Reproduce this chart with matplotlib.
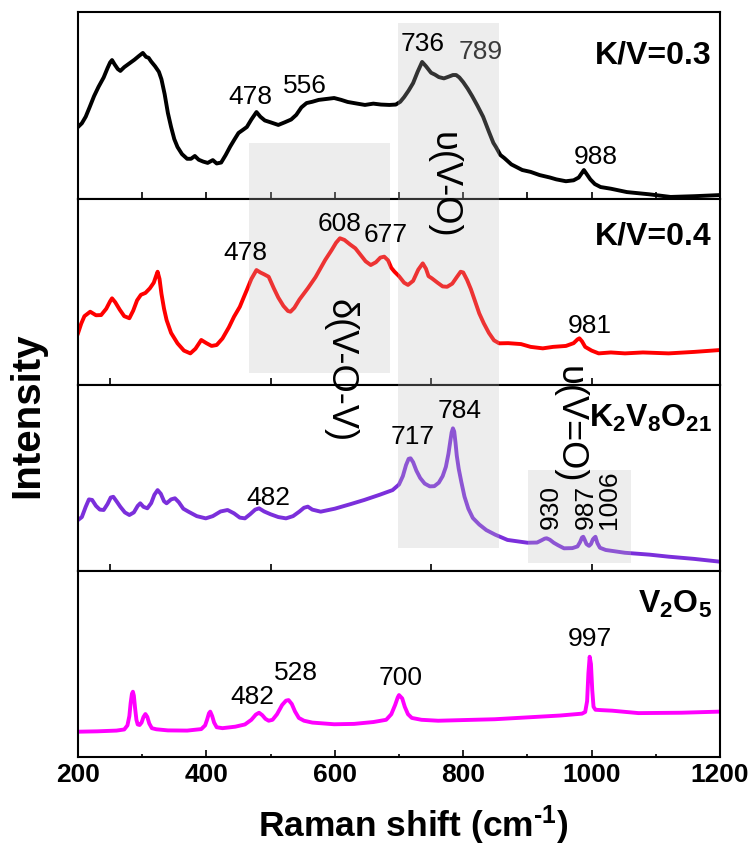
import numpy as np
import matplotlib
matplotlib.use('Agg')
import matplotlib.pyplot as plt
from matplotlib.patches import Rectangle
from matplotlib.transforms import blended_transform_factory
from matplotlib import font_manager

# 拉曼光谱 (拉曼位移 cm-1, 相对强度)
kv03_x = [200, 206, 212, 218, 225, 232, 240, 246, 250, 253, 257, 262, 266, 272, 280, 288, 295, 301,
          306, 310, 314, 320, 326, 330, 335, 340, 345, 350, 355, 362, 370, 376, 382, 388, 395, 402,
          410, 416, 423, 430, 437, 444, 450, 457, 463, 470, 478, 484, 491, 500, 512, 522, 532, 540,
          548, 556, 565, 575, 587, 599, 610, 620, 635, 647, 660, 672, 685, 695, 702, 708, 715, 722,
          729, 736, 742, 750, 756, 762, 770, 778, 784, 789, 794, 800, 807, 814, 822, 831, 840, 847,
          851, 858, 864, 875, 892, 905, 919, 935, 945, 960, 972, 980, 985, 988, 992, 998, 1005,
          1014, 1030, 1055, 1090, 1123, 1160, 1200]
kv03_y = [38.5, 40.5, 44, 49, 55, 60, 65, 70, 73, 74.3, 72, 69.5, 68.5, 70.5, 72.5, 74.5, 76.5, 78.1,
          76, 75.5, 73.5, 71, 68, 64, 56, 46, 38.5, 32, 27.8, 24, 21.5, 21.5, 23, 21, 20, 19.3,
          20.8, 19, 19.5, 23.5, 28, 32, 35.3, 37, 38.5, 42.5, 46.5, 44, 42, 41, 39.6, 41, 42.5, 45,
          49, 51.3, 52, 53, 53.5, 54.0, 53, 51.9, 51, 50.3, 51, 50.5, 50.3, 50.5, 52, 54.5, 58, 62,
          68, 73.3, 71, 67.5, 66.5, 65.2, 64.5, 65.5, 66.3, 66.3, 65, 62.5, 59, 55, 50, 44, 36, 30,
          27.8, 23.5, 21.9, 18.5, 15.5, 14.5, 12.8, 11.5, 10.5, 9.5, 10, 11.5, 14, 15.5, 13.5, 10.5,
          8, 6.4, 5.5, 3.7, 2.5, 1.1, 1.5, 2.1]

kv04_x = [200, 205, 210, 219, 228, 236, 244, 250, 253, 258, 265, 272, 280, 286, 292, 298, 305, 312,
          318, 322, 324, 327, 330, 334, 338, 345, 355, 365, 375, 383, 392, 400, 408, 416, 425, 435,
          443, 452, 458, 463, 470, 478, 484, 490, 497, 505, 512, 520, 527, 531, 537, 545, 558, 570,
          585, 595, 602, 608, 615, 624, 632, 640, 648, 656, 664, 671, 677, 683, 688, 693, 700, 708,
          714, 722, 730, 737, 742, 746, 751, 760, 768, 775, 783, 790, 796, 800, 806, 812, 818, 825,
          832, 840, 848, 856, 870, 890, 905, 924, 940, 960, 972, 978, 981, 985, 990, 1000, 1011,
          1030, 1052, 1080, 1120, 1160, 1200]
kv04_y = [27.8, 33, 37, 39.4, 37.5, 37.6, 41, 45, 46.6, 44.5, 40.5, 37, 35.9, 40, 45.5, 48.5, 49.5,
          52, 55, 59, 60.9, 57, 49, 41, 34.9, 28, 22.4, 18.5, 17.0, 19.5, 24.2, 22.5, 21, 21.5, 25,
          31, 36.7, 42, 47, 51.1, 57, 61.8, 60.5, 59.5, 58.2, 52, 47, 42.5, 39.8, 39.4, 41.5, 46,
          52.0, 58, 67.2, 72.5, 76.5, 78.9, 78, 75.5, 73.5, 70, 66.5, 64.5, 66, 68.5, 69.0, 67, 63,
          60.9, 58.5, 55, 53.8, 56, 62, 65.4, 62.5, 58.5, 57.4, 55, 53, 52.8, 54.5, 58, 60.9, 60.5,
          56.5, 51.5, 45.5, 38.5, 33.2, 28, 24, 22.4, 22.5, 22, 20.5, 19.7, 20.5, 21, 22.5, 24.5,
          25.1, 23.5, 20.5, 18.5, 17.0, 17.5, 17.0, 17.5, 17.0, 17.8, 18.8]

k2v8o21_x = [200, 206, 212, 217, 222, 228, 234, 240, 246, 251, 255, 260, 266, 273, 280, 287, 293,
             297, 302, 308, 314, 319, 324, 329, 334, 338, 345, 351, 357, 364, 372, 385, 399, 410,
             422, 433, 443, 452, 460, 468, 476, 482, 490, 500, 512, 524, 535, 545, 552, 558, 565,
             578, 600, 625, 646, 670, 690, 700, 706, 711, 715, 718, 722, 727, 733, 740, 748, 755,
             762, 768, 773, 777, 780, 782, 784, 786, 788, 790, 793, 797, 802, 808, 815, 825, 836,
             850, 869, 900, 915, 922, 927, 930, 935, 941, 948, 957, 970, 978, 982, 985, 987, 989,
             992, 996, 999, 1002, 1004, 1006, 1009, 1013, 1022, 1052, 1090, 1120, 1160, 1200]
k2v8o21_y = [27.4, 29, 34.5, 38.5, 38.2, 35, 33, 32.8, 36, 39.5, 39.9, 37.5, 34.5, 31.5, 30.1, 31.5,
             35, 36.4, 34.5, 33.7, 36.5, 41, 43.5, 41.5, 37.5, 36.4, 38.5, 39.1, 37, 33.5, 31.9,
             29.5, 28.3, 29.5, 32, 32.8, 31, 28.7, 28.3, 30.5, 33, 33.7, 32, 30.5, 29, 28.3, 29.5,
             32, 34, 34.6, 33, 31.9, 33.5, 36, 38.2, 41, 43.5, 46.5, 51, 57, 60.3, 60.6, 58.5, 54,
             50, 47, 45.5, 45.6, 47.5, 51, 56, 63, 70, 74.5, 76.7, 75, 69, 62, 55, 48, 40, 33.5,
             28.5, 25, 22.0, 19.5, 16.7, 15.2, 15.3, 16.5, 17.4, 17.6, 16.8, 15.2, 13.8, 12.2, 12.3,
             13.2, 15.5, 18, 18.4, 17, 14.5, 13.5, 14.5, 17, 17.8, 18.4, 15, 12.5, 11.3, 9.8, 8.8,
             7.7, 6.5, 5.0]

v2o5_x = [200, 230, 260, 272, 277, 280, 282, 284, 285.5, 287, 289, 291, 293, 296, 299, 302, 305, 308,
          311, 315, 322, 340, 370, 392, 398, 401, 404, 406, 409, 412, 416, 425, 445, 460, 470, 477,
          482, 487, 492, 497, 503, 510, 518, 524, 528, 533, 538, 544, 552, 565, 599, 630, 660, 680,
          688, 694, 698, 700, 705, 709, 714, 720, 735, 761, 849, 951, 985, 990, 993, 995, 997, 999,
          1001, 1003, 1006, 1015, 1032, 1073, 1140, 1200]
v2o5_y = [13.6, 13.8, 14.2, 14.8, 17, 22, 29, 34, 35.1, 33, 26, 20, 17.5, 17.2, 18.5, 21.5, 23.1,
          21.5, 18, 15.5, 14.9, 14.3, 14.2, 15, 17, 20, 23.5, 24.4, 22, 18.5, 16, 15.5, 16.3, 17.5,
          20, 22.8, 23.8, 22.5, 20.5, 19.5, 20, 23, 28, 30.3, 30.6, 28.5, 24.5, 21, 19.5, 18.5,
          17.6, 17.8, 18.8, 20, 23, 28, 32, 33.3, 31.5, 27, 23, 21, 20, 19.5, 20.3, 22.3, 23.3,
          24.2, 30, 45, 53.9, 50, 36, 27, 25.4, 25.2, 24.9, 23.6, 23.8, 24.4]

names = ['K/V=0.3', 'K/V=0.4', r'K$_2$V$_8$O$_{21}$', r'V$_2$O$_5$']
colors = ['black', 'red', '#7b2fdb', '#ff00ff']

# 标注的峰位
kv03_peaks = [478, 556, 736, 789, 988]
kv04_peaks = [478, 608, 677, 981]
k2v8o21_peaks = [482, 717, 784]
k2v8o21_peaks_v = [930, 987, 1006]
v2o5_peaks = [482, 528, 700, 997]

# 振动模式区域
bands = ['δ(V-O-V)', 'υ(V-O)', 'υ(V=O)']
band_x = [(466, 686), (699, 856), (901, 1061)]

avail = {f.name for f in font_manager.fontManager.ttflist}
narrow = 'Liberation Sans Narrow' if 'Liberation Sans Narrow' in avail else 'Liberation Sans'
tick_size = 24 if narrow == 'Liberation Sans Narrow' else 19

plt.rcParams['font.family'] = ['Liberation Sans', 'DejaVu Sans']
plt.rcParams['mathtext.default'] = 'regular'
plt.rcParams['axes.linewidth'] = 1.5

fig = plt.figure(figsize=(7.53, 8.47), dpi=100)
left, width = 78 / 753, 642 / 753
edges = [12, 199, 385, 571, 757]
axes = []
for i in range(4):
    b = 1 - edges[i + 1] / 847
    h = (edges[i + 1] - edges[i]) / 847
    axes.append(fig.add_axes([left, b, width, h]))

xs = [kv03_x, kv04_x, k2v8o21_x, v2o5_x]
ys = [kv03_y, kv04_y, k2v8o21_y, v2o5_y]
name_y = [0.726, 0.753, 0.776, 0.773]
for i, ax in enumerate(axes):
    ax.plot(xs[i], ys[i], color=colors[i], lw=2.8, solid_joinstyle='round')
    ax.set_xlim(200, 1200)
    ax.set_ylim(0, 100)
    ax.set_yticks([])
    ax.tick_params(axis='x', direction='in', length=5, width=1.2, top=False)
    ax.text(0.9875, name_y[i], names[i], transform=ax.transAxes, ha='right', va='baseline',
            fontsize=23, fontweight='bold')

axes[0].set_xticks(np.arange(300, 1200, 100))
axes[0].set_xticklabels([])
for ax in axes[1:3]:
    ax.set_xticks([250, 500, 750, 1000])
    ax.set_xticklabels([])
ax4 = axes[3]
ax4.set_xticks(np.arange(200, 1201, 200))
ax4.set_xticks(np.arange(300, 1200, 200), minor=True)
ax4.tick_params(axis='x', which='minor', direction='in', length=2.5, width=1.2)
ax4.tick_params(axis='x', which='major', pad=4)
for lbl in ax4.get_xticklabels():
    lbl.set_fontfamily(narrow)
    lbl.set_fontweight('bold')
    lbl.set_fontsize(tick_size)

# 灰色区域 (跨越多个子图)
band_y = [(0.560, 0.8315), (0.353, 0.9732), (0.335, 0.4451)]
tr = blended_transform_factory(ax4.transData, fig.transFigure)
for (x0, x1), (y0, y1) in zip(band_x, band_y):
    fig.add_artist(Rectangle((x0, y0), x1 - x0, y1 - y0, transform=tr, facecolor='#bfbfbf',
                             alpha=0.27, edgecolor='none', zorder=1))

band_pos = [(608, 0.562), (768, 0.7816), (965, 0.4982)]
for s, (bx, by) in zip(bands, band_pos):
    fig.text(bx, by, s, transform=tr, rotation=270, ha='center', va='center', fontsize=26,
             zorder=5)

# 峰位标注
def label(ax, peaks, pos, rot=0, va='center', color=None):
    for k, (p, (lx, ly)) in enumerate(zip(peaks, pos)):
        c = 'black' if color is None else color[k]
        fig.text(lx, ly, str(p), transform=ax.transData, rotation=rot, ha='center', va=va,
                 fontsize=19, color=c, zorder=5)

label(axes[0], kv03_peaks, [(468, 54.5), (554, 60.4), (737, 82.9), (828, 78.6), (1007, 22.5)],
      color=['black', 'black', 'black', '#3a3a3a', 'black'])
label(axes[1], kv04_peaks, [(460, 70.7), (608, 86.8), (680, 80.6), (997, 31.5)])
label(axes[2], k2v8o21_peaks, [(497, 39.0), (722, 71.8), (795, 85.8)])
label(axes[2], k2v8o21_peaks_v, [(937, 22.6), (991, 22.6), (1027, 22.6)], rot=90, va='bottom')
label(axes[3], v2o5_peaks, [(471, 32), (540, 45.2), (703, 42.7), (997.5, 63.4)])

fig.text(27 / 753, 1 - 415 / 847, 'Intensity', rotation=90, ha='center', va='center',
         fontsize=29, fontweight='bold')
fig.text(413 / 753, 1 - 825 / 847, 'Raman shift (cm$^{\u20101}$)', ha='center', va='center',
         fontsize=25.5, fontweight='bold')

fig.savefig('out.png', dpi=100)
